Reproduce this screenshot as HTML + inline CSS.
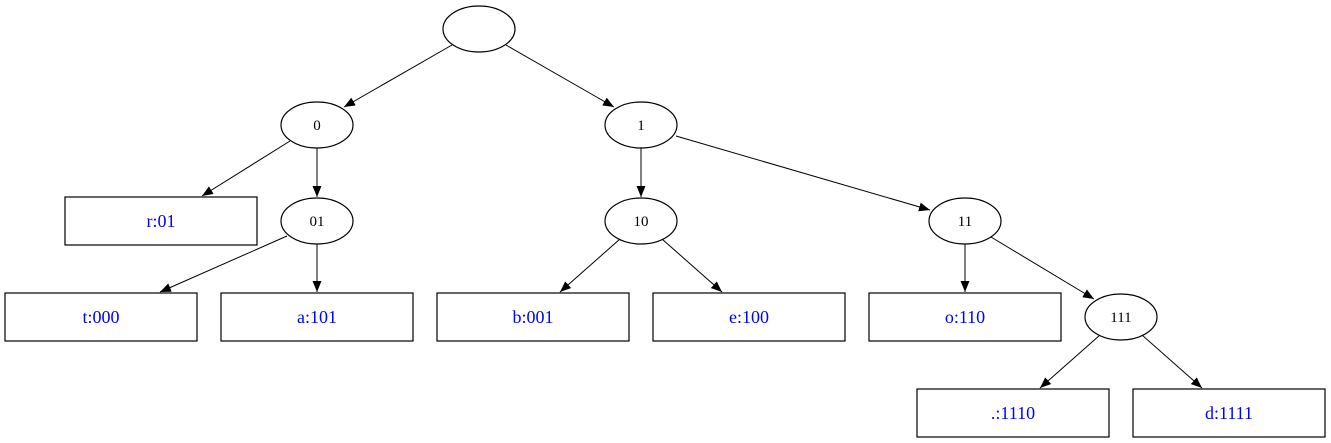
<!DOCTYPE html>
<html><head><meta charset="utf-8"><style>body{margin:0;background:#fff}svg{display:block}</style></head><body>
<svg width="1331" height="443" viewBox="0 0 1331 443" xmlns="http://www.w3.org/2000/svg" font-family="Liberation Serif, serif">
<defs><marker id="a" markerWidth="11" markerHeight="9" refX="11" refY="4.5" orient="auto" markerUnits="userSpaceOnUse"><path d="M0,0 L11,4.5 L0,9 z" fill="#000"/></marker></defs>
<g stroke="#000" stroke-width="1.2" fill="none">
<ellipse cx="479" cy="29" rx="36" ry="23"/>
<ellipse cx="317" cy="125" rx="36" ry="23"/>
<ellipse cx="641" cy="125" rx="36" ry="23"/>
<ellipse cx="317" cy="221" rx="36" ry="23"/>
<ellipse cx="641" cy="221" rx="36" ry="23"/>
<ellipse cx="965" cy="221" rx="36" ry="23"/>
<ellipse cx="1121" cy="317" rx="36" ry="23"/>
<rect x="65" y="197" width="192" height="48"/>
<rect x="5" y="293" width="192" height="48"/>
<rect x="221" y="293" width="192" height="48"/>
<rect x="437" y="293" width="192" height="48"/>
<rect x="653" y="293" width="192" height="48"/>
<rect x="869" y="293" width="192" height="48"/>
<rect x="917" y="389" width="192" height="48"/>
<rect x="1133" y="389" width="192" height="48"/>
</g>
<g stroke="#000" stroke-width="1" marker-end="url(#a)">
<line x1="452" y1="45" x2="344" y2="107"/>
<line x1="506" y1="45" x2="614" y2="107"/>
<line x1="290" y1="141" x2="202" y2="196"/>
<line x1="317" y1="148" x2="317" y2="197"/>
<line x1="641" y1="148" x2="641" y2="197"/>
<line x1="676" y1="136" x2="930" y2="210"/>
<line x1="287" y1="236" x2="160" y2="292"/>
<line x1="317" y1="244" x2="317" y2="292"/>
<line x1="620" y1="239" x2="560" y2="292"/>
<line x1="662" y1="239" x2="722" y2="292"/>
<line x1="965" y1="244" x2="965" y2="292"/>
<line x1="991" y1="237" x2="1094" y2="299"/>
<line x1="1100" y1="335" x2="1040" y2="388"/>
<line x1="1142" y1="335" x2="1202" y2="388"/>
</g>
<g font-size="15" text-anchor="middle" fill="#000">
<text x="317" y="130">0</text><text x="641" y="130">1</text>
<text x="317" y="226">01</text><text x="641" y="226">10</text>
<text x="965" y="226">11</text><text x="1121" y="322">111</text>
</g>
<g font-size="18" text-anchor="middle" fill="#0000ff">
<text x="161" y="227">r:01</text>
<text x="101" y="323">t:000</text>
<text x="317" y="323">a:101</text>
<text x="533" y="323">b:001</text>
<text x="749" y="323">e:100</text>
<text x="965" y="323">o:110</text>
<text x="1013" y="419">.:1110</text>
<text x="1229" y="419">d:1111</text>
</g>
</svg>
</body></html>
